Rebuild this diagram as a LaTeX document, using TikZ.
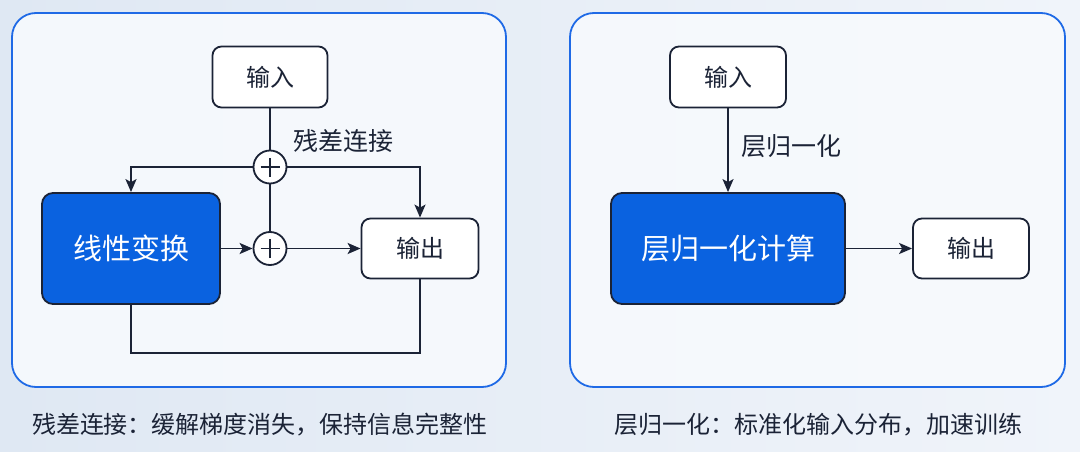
\documentclass[tikz,border=0pt]{standalone}
\usepackage{fontspec}
\setmainfont{Noto Sans CJK SC}
\usetikzlibrary{arrows.meta,calc}
\definecolor{bgA}{HTML}{DFE8F3}
\definecolor{bgB}{HTML}{F0F4FA}
\definecolor{panelfill}{HTML}{F7FAFD}
\definecolor{panelline}{HTML}{1F6AE6}
\definecolor{ink}{HTML}{1B2336}
\definecolor{bluebox}{HTML}{0A62E0}
\tikzset{
  panel/.style={draw=panelline,line width=1.8pt,rounded corners=24pt,fill=panelfill,fill opacity=0.9},
  whitebox/.style={draw=ink,line width=1.8pt,rounded corners=9pt,fill=white,text=ink,font=\fontsize{24}{28}\selectfont,inner sep=0pt},
  bluenode/.style={draw=ink,line width=1.8pt,rounded corners=11pt,fill=bluebox,text=white,font=\fontsize{29}{34}\selectfont,inner sep=0pt},
  plusnode/.style={circle,draw=ink,line width=1.8pt,fill=white,minimum size=33pt,inner sep=0pt},
  conn/.style={draw=ink,line width=1.8pt},
  arr/.style={conn,-{Stealth[length=13pt,width=11pt,inset=3pt]}},
  lbl/.style={text=ink,font=\fontsize{25}{29}\selectfont,inner sep=0pt},
  caption/.style={text=ink,font=\fontsize{24}{28}\selectfont,inner sep=0pt}
}
\begin{document}
\begin{tikzpicture}[x=1pt,y=-1pt]
\useasboundingbox (0,0) rectangle (1080,452);
\shade[left color=bgA,right color=bgB] (0,0) rectangle (1080,452);
% left panel
\draw[panel] (12,13) rectangle (506,387);
\node[whitebox,minimum width=115pt,minimum height=61pt] (in1) at (270,77) {输入};
\node[plusnode] (p1) at (270,167) {};
\node[plusnode] (p2) at (270,248.5) {};
\node[bluenode,minimum width=178pt,minimum height=111pt] (lin) at (131,248.5) {线性变换};
\node[whitebox,minimum width=117pt,minimum height=60pt] (out1) at (420,248.5) {输出};
\node[lbl,anchor=west] (res) at (293,141) {残差连接};
\foreach \p in {p1,p2}{
  \draw[conn] ([xshift=-9.5pt]\p.center) -- ([xshift=9.5pt]\p.center);
  \draw[conn] ([yshift=-9.5pt]\p.center) -- ([yshift=9.5pt]\p.center);
}
\draw[conn] (in1.south) -- (p1.north);
\draw[arr] (p1.west) -| (lin.north);
\draw[arr] (p1.east) -| (out1.north);
\draw[conn] (p1.south) -- (p2.north);
\draw[arr] (lin.east) -- (p2.west);
\draw[arr] (p2.east) -- (out1.west);
\coordinate (lb) at (131,353);
\draw[conn] (lin.south) -- (lb) -| (out1.south);
\node[caption] (cap1) at (260,425) {残差连接：缓解梯度消失，保持信息完整性};
% right panel
\draw[panel] (570,13) rectangle (1065,387);
\node[whitebox,minimum width=116pt,minimum height=61pt] (in2) at (728,77) {输入};
\node[bluenode,minimum width=234pt,minimum height=111pt] (norm) at (728,248.5) {层归一化计算};
\node[whitebox,minimum width=116pt,minimum height=60pt] (out2) at (971,248.5) {输出};
\node[lbl,anchor=west] (ln) at (741,146) {层归一化};
\draw[arr] (in2.south) -- (norm.north);
\draw[arr] (norm.east) -- (out2.west);
\node[caption] (cap2) at (818,425) {层归一化：标准化输入分布，加速训练};
\end{tikzpicture}
\end{document}
